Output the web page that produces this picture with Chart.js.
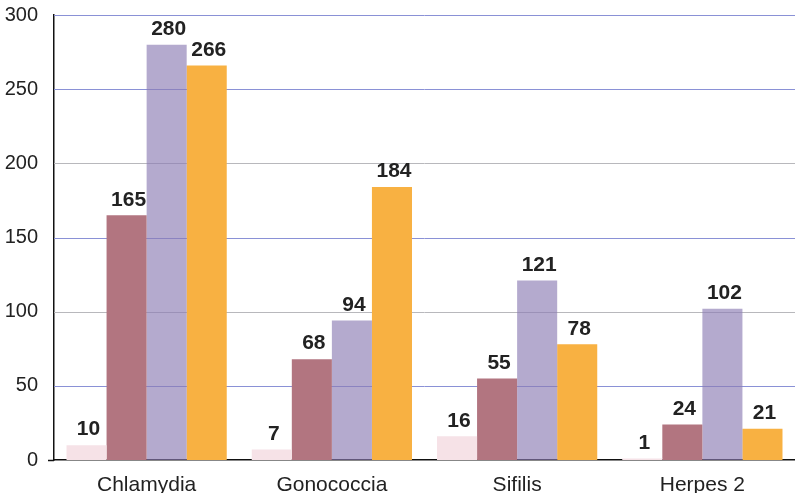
<!DOCTYPE html>
<html>
<head>
<meta charset="utf-8">
<script src="https://cdn.jsdelivr.net/npm/chart.js@4/dist/chart.umd.min.js"></script>
<style>
  html, body { margin: 0; padding: 0; background: #fff; }
  #wrap { width: 795px; height: 493px; position: relative; }
</style>
</head>
<body>
<div id="wrap"><canvas id="barChart"></canvas></div>
<script>
// ── Data ──
const CATEGORIES = ['Chlamydia', 'Gonococcia', 'Sifilis', 'Herpes 2'];
const SERIES_A = [10, 7, 16, 1];
const SERIES_B = [165, 68, 55, 24];
const SERIES_C = [280, 94, 121, 102];
const SERIES_D = [266, 184, 78, 21];
const Y_TICKS = [0, 50, 100, 150, 200, 250, 300];
const BLUE_TICKS = [50, 150, 250, 300];

// ── Colours ──
const C_PINK   = '#f6e2e7';
const C_MAUVE  = '#b27580';
const C_LAV    = 'rgba(140,125,180,0.65)';
const C_ORANGE = '#f8b142';
const C_GRID_BLUE = '#8a91d6';
const C_GRID_GREY = '#b8b8bc';
const FONT = '"Liberation Sans", Arial, sans-serif';

// ── Gridlines: alternate blue / grey, drawn from the y scale ──
const gridLines = {
  id: 'gridLines',
  beforeDatasetsDraw(chart) {
    const { ctx, chartArea, scales } = chart;
    ctx.save();
    ctx.lineWidth = 1;
    Y_TICKS.forEach(v => {
      if (v === 0) return;
      const y = Math.round(scales.y.getPixelForValue(v)) + 0.5;
      ctx.strokeStyle = BLUE_TICKS.includes(v) ? C_GRID_BLUE : C_GRID_GREY;
      ctx.beginPath();
      ctx.moveTo(chartArea.left, y);
      ctx.lineTo(chartArea.right, y);
      ctx.stroke();
    });
    // small tick left of the zero line
    const y0 = Math.round(scales.y.getPixelForValue(0)) + 0.5;
    ctx.strokeStyle = '#111';
    ctx.lineWidth = 1.5;
    ctx.beginPath();
    ctx.moveTo(chartArea.left - 6, y0);
    ctx.lineTo(chartArea.left, y0);
    ctx.stroke();
    ctx.restore();
  }
};

// ── Value labels above each bar ──
const barLabels = {
  id: 'barLabels',
  afterDatasetsDraw(chart) {
    const ctx = chart.ctx;
    ctx.save();
    ctx.font = 'bold 21px ' + FONT;
    ctx.fillStyle = '#222';
    ctx.textAlign = 'center';
    ctx.textBaseline = 'bottom';
    chart.data.datasets.forEach((ds, i) => {
      chart.getDatasetMeta(i).data.forEach((bar, j) => {
        ctx.fillText(ds.data[j], bar.x + 2, bar.y - 5);
      });
    });
    ctx.restore();
  }
};

new Chart(document.getElementById('barChart'), {
  type: 'bar',
  data: {
    labels: CATEGORIES,
    datasets: [
      { data: SERIES_A, backgroundColor: C_PINK },
      { data: SERIES_B, backgroundColor: C_MAUVE },
      { data: SERIES_C, backgroundColor: C_LAV },
      { data: SERIES_D, backgroundColor: C_ORANGE },
    ]
  },
  options: {
    responsive: true,
    maintainAspectRatio: false,
    animation: false,
    layout: { padding: { top: 15, right: 0, bottom: 0, left: 0 } },
    datasets: { bar: { categoryPercentage: 0.865, barPercentage: 1.0 } },
    plugins: { legend: { display: false }, tooltip: { enabled: false } },
    scales: {
      x: {
        afterFit: s => { s.height = 33; },
        grid: { display: false, drawTicks: false },
        border: { color: '#111', width: 1.5 },
        ticks: {
          color: '#222',
          padding: 13,
          font: { size: 21, family: FONT }
        }
      },
      y: {
        min: 0,
        max: 300,
        afterBuildTicks: s => { s.ticks = Y_TICKS.map(v => ({ value: v })); },
        afterFit: s => { s.width = 54; s.paddingTop = 0; s.paddingBottom = 0; },
        grid: { display: false, drawTicks: false },
        border: { color: '#111', width: 1.5 },
        ticks: {
          color: '#222',
          padding: 16,
          font: { size: 20, family: FONT }
        }
      }
    }
  },
  plugins: [gridLines, barLabels]
});
</script>
</body>
</html>
